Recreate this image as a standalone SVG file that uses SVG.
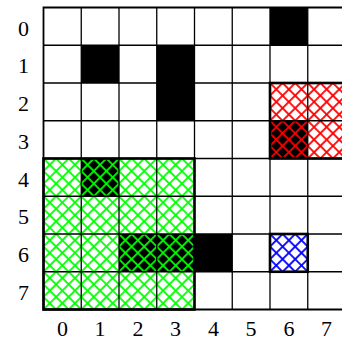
<svg xmlns="http://www.w3.org/2000/svg" width="342" height="338" viewBox="0 0 342 338">
<style>
.lbl{font-family:"Liberation Serif","Times New Roman",serif;font-size:22px;fill:#000;text-anchor:middle}
.grid line{stroke:#000;stroke-width:1.3}
.blk{fill:#000}
.reg{fill:none;stroke:#000;stroke-width:2.6}
</style>
<defs>
<pattern id="hg" patternUnits="userSpaceOnUse" width="8.9" height="8.9" patternTransform="translate(43.5,158.5) rotate(45)">
<rect x="-0.9" y="-0.9" width="10.7" height="1.8" fill="#00ff00"/><rect x="-0.9" y="-0.9" width="1.8" height="10.7" fill="#00ff00"/>
<rect x="-0.9" y="8" width="10.7" height="1.8" fill="#00ff00"/><rect x="8" y="-0.9" width="1.8" height="10.7" fill="#00ff00"/>
</pattern>
<pattern id="hr" patternUnits="userSpaceOnUse" width="8.9" height="8.9" patternTransform="translate(270,83) rotate(45)">
<rect x="-0.9" y="-0.9" width="10.7" height="1.8" fill="#ff0000"/><rect x="-0.9" y="-0.9" width="1.8" height="10.7" fill="#ff0000"/>
<rect x="-0.9" y="8" width="10.7" height="1.8" fill="#ff0000"/><rect x="8" y="-0.9" width="1.8" height="10.7" fill="#ff0000"/>
</pattern>
<pattern id="hb" patternUnits="userSpaceOnUse" width="8.9" height="8.9" patternTransform="translate(270,234) rotate(45)">
<rect x="-0.9" y="-0.9" width="10.7" height="1.8" fill="#0000ff"/><rect x="-0.9" y="-0.9" width="1.8" height="10.7" fill="#0000ff"/>
<rect x="-0.9" y="8" width="10.7" height="1.8" fill="#0000ff"/><rect x="8" y="-0.9" width="1.8" height="10.7" fill="#0000ff"/>
</pattern>
</defs>
<rect x="0" y="0" width="342" height="338" fill="#fff"/>
<g id="black-cells">
<rect class="blk" x="270" y="7.5" width="37.75" height="37.75"/>
<rect class="blk" x="81.25" y="45.25" width="37.75" height="37.75"/>
<rect class="blk" x="156.75" y="45.25" width="37.75" height="75.5"/>
<rect class="blk" x="270" y="120.75" width="37.75" height="37.75"/>
<rect class="blk" x="81.25" y="158.5" width="37.75" height="37.75"/>
<rect class="blk" x="119" y="234" width="113.25" height="37.75"/>
</g>
<g id="hatches">
<rect x="43.5" y="158.5" width="151" height="151" fill="url(#hg)"/>
<rect x="270" y="83" width="75.5" height="75.5" fill="url(#hr)"/>
<rect x="270" y="234" width="37.75" height="37.75" fill="url(#hb)"/>
</g>
<g class="grid" id="grid">
<line x1="43.5" y1="45.25" x2="345.5" y2="45.25"/>
<line x1="43.5" y1="83" x2="345.5" y2="83"/>
<line x1="43.5" y1="120.75" x2="345.5" y2="120.75"/>
<line x1="43.5" y1="158.5" x2="345.5" y2="158.5"/>
<line x1="43.5" y1="196.25" x2="345.5" y2="196.25"/>
<line x1="43.5" y1="234" x2="345.5" y2="234"/>
<line x1="43.5" y1="271.75" x2="345.5" y2="271.75"/>
<line x1="81.25" y1="7.5" x2="81.25" y2="309.5"/>
<line x1="119" y1="7.5" x2="119" y2="309.5"/>
<line x1="156.75" y1="7.5" x2="156.75" y2="309.5"/>
<line x1="194.5" y1="7.5" x2="194.5" y2="309.5"/>
<line x1="232.25" y1="7.5" x2="232.25" y2="309.5"/>
<line x1="270" y1="7.5" x2="270" y2="309.5"/>
<line x1="307.75" y1="7.5" x2="307.75" y2="309.5"/>
<path d="M345.5 7.5 H43.5 V309.5 H345.5" fill="none" stroke="#000" stroke-width="1.8"/>
</g>
<g id="regions">
<rect class="reg" x="43.5" y="158.5" width="151" height="151"/>
<rect class="reg" x="270" y="83" width="75.5" height="75.5"/>
<rect class="reg" x="270" y="234" width="37.75" height="37.75"/>
</g>
<g id="row-labels">
<text class="lbl" x="23.5" y="35.5">0</text>
<text class="lbl" x="23.5" y="73.25">1</text>
<text class="lbl" x="23.5" y="111">2</text>
<text class="lbl" x="23.5" y="148.75">3</text>
<text class="lbl" x="23.5" y="186.5">4</text>
<text class="lbl" x="23.5" y="224.25">5</text>
<text class="lbl" x="23.5" y="262">6</text>
<text class="lbl" x="23.5" y="299.75">7</text>
</g>
<g id="col-labels">
<text class="lbl" x="62.4" y="336">0</text>
<text class="lbl" x="100.1" y="336">1</text>
<text class="lbl" x="137.9" y="336">2</text>
<text class="lbl" x="175.6" y="336">3</text>
<text class="lbl" x="213.4" y="336">4</text>
<text class="lbl" x="251.1" y="336">5</text>
<text class="lbl" x="288.9" y="336">6</text>
<text class="lbl" x="326.6" y="336">7</text>
</g>
</svg>
